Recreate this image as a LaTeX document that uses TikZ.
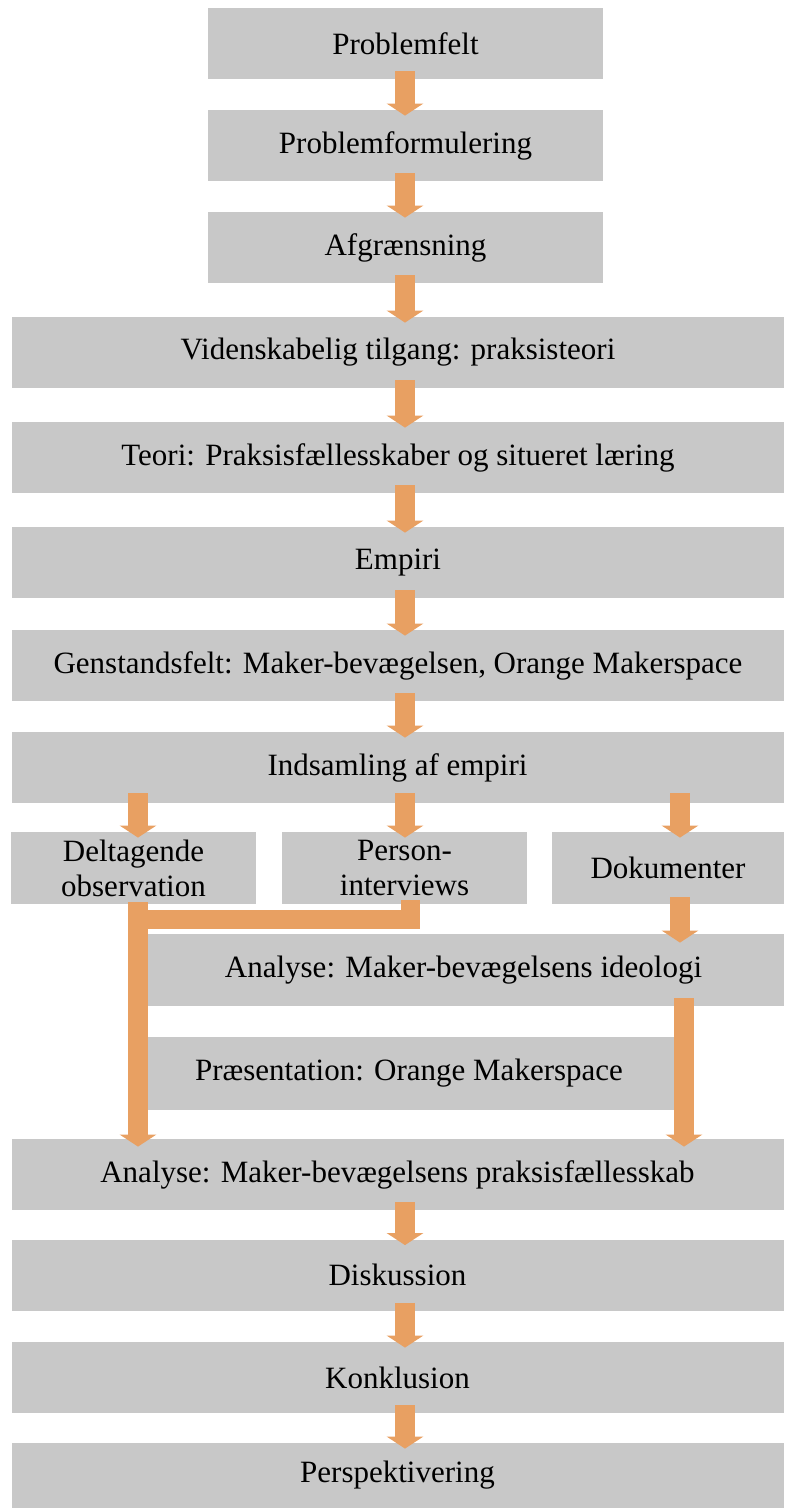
\documentclass[tikz,border=0pt]{standalone}
\usepackage{fontspec}
\setmainfont{Liberation Serif}
\usetikzlibrary{arrows.meta}
\definecolor{boxgrey}{RGB}{200,200,200}
\definecolor{arroworange}{RGB}{232,160,98}

\begin{document}
\begin{tikzpicture}[
          x = 0.5pt, y = -0.5pt,
          stepbox/.style = {fill = boxgrey, minimum height = 35.5pt, inner sep = 0, align = center,
                            font = \fontsize{15.5}{16}\selectfont},
          widebox/.style = {stepbox, minimum width = 386pt},
          twoline/.style = {stepbox, minimum width = 122.5pt, minimum height = 36pt,
                            font = \fontsize{15.5}{17.5}\selectfont},
          flow/.style = {draw = arroworange, line width = 10pt, -{Triangle[width = 18pt, length = 6pt]}},
          bar/.style = {draw = arroworange, line width = 9.5pt}
        ]
          \useasboundingbox (0,0) rectangle (784,1508);
          % columns for the arrows
          \coordinate (mid) at (405,0);
          \coordinate (lft) at (138,0);
          \coordinate (rgt) at (680,0);
          \coordinate (rgtlong) at (684,0);
          \coordinate (pcol) at (410,0);
          \coordinate (join) at (138,919);
          % place nodes
          \path node (pf) [stepbox, minimum width = 197.5pt] at (405.5,43.5) {Problemfelt};
          \path node (pform) [stepbox, minimum width = 197.5pt] at (405.5,145.5) {Problemformulering};
          \path node (afg) [stepbox, minimum width = 197.5pt] at (405.5,247.5) {Afgrænsning};
          \path node (vid) [widebox] at (398,352.5) {Videnskabelig tilgang: praksisteori};
          \path node (teori) [widebox] at (398,457.5) {Teori: Praksisfællesskaber og situeret læring};
          \path node (empiri) [widebox] at (398,562.5) {Empiri};
          \path node (genst) [widebox] at (398,665.5) {Genstandsfelt: Maker-bevægelsen, Orange Makerspace};
          \path node (inds) [widebox] at (397.5,767.5) {Indsamling af empiri};
          \path node (delt) [twoline] at (133.5,868) {Deltagende\\observation};
          \path node (pers) [twoline] at (404.5,868) {Person-\\interviews};
          \path node (dok) [stepbox, minimum width = 116pt, minimum height = 36pt] at (668,868) {Dokumenter};
          \path node (anaid) [stepbox, minimum width = 320.5pt, minimum height = 36pt] at (463.5,970) {Analyse: Maker-bevægelsens ideologi};
          \path node (praes) [stepbox, minimum width = 266pt, minimum height = 36.5pt] at (409,1073.5) {Præsentation: Orange Makerspace};
          \path node (anapr) [widebox] at (397.5,1174.5) {Analyse: Maker-bevægelsens praksisfællesskab};
          \path node (disk) [widebox] at (397.5,1275) {Diskussion};
          \path node (konk) [widebox] at (397.5,1377.5) {Konklusion};
          \path node (persp) [widebox, minimum height = 32.5pt] at (397.5,1475.5) {Perspektivering};
          % place edges
          \foreach \a/\b in {pf/pform, pform/afg, afg/vid, vid/teori, teori/empiri, empiri/genst,
                             genst/inds, anapr/disk, disk/konk, konk/persp}
            { \draw [flow] ([yshift = 4pt] \a.south -| mid) -- ([yshift = -3pt] \b.north -| mid) ; } ;
          \foreach \b/\c in {delt/lft, pers/mid, dok/rgt}
            { \draw [flow] ([yshift = 5pt] inds.south -| \c) -- ([yshift = -3pt] \b.north -| \c) ; } ;
          \draw [flow] ([yshift = 3.5pt] dok.south -| rgt) -- ([yshift = -4.5pt] anaid.north -| rgt) ;
          \draw [flow] ([yshift = 4pt] anaid.south -| rgtlong) -- ([yshift = -4pt] anapr.north -| rgtlong) ;
          \draw [bar] ([yshift = 2pt] pers.south -| pcol) |- (join) ;
          \draw [flow] ([yshift = 1pt] delt.south -| lft) -- ([yshift = -4pt] anapr.north -| lft) ;
        \end{tikzpicture}
\end{document}
